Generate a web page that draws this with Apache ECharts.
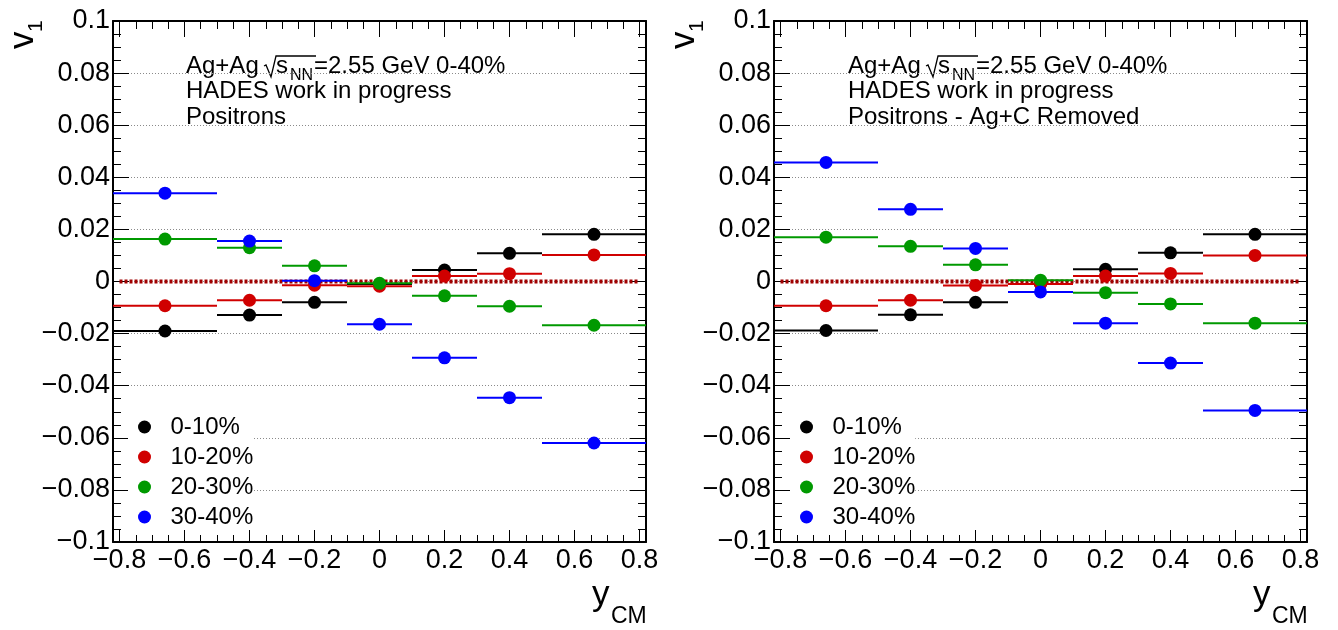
<!DOCTYPE html>
<html><head><meta charset="utf-8">
<script src="https://cdn.jsdelivr.net/npm/echarts@6/dist/echarts.min.js"></script>
<style>html,body{margin:0;padding:0;background:#fff}#c{width:1338px;height:630px}</style>
</head><body><div id="c"></div>
<script>
// ---------- data ----------
const categories = ['0-10%', '10-20%', '20-30%', '30-40%'];
const colors = ['#000000', '#d00000', '#009900', '#0000ff'];
const xCenters = [-0.66, -0.4, -0.2, 0, 0.2, 0.4, 0.66];
const binLow  = [-0.82, -0.5, -0.3, -0.1, 0.1, 0.3, 0.5];
const binHigh = [-0.5, -0.3, -0.1, 0.1, 0.3, 0.5, 0.82];

// Left panel: Positrons
const left_0_10  = [-0.0190, -0.0129, -0.0080, -0.0010, 0.0044, 0.0108, 0.0181];
const left_10_20 = [-0.0093, -0.0072, -0.0014, -0.0018, 0.0021, 0.0030, 0.0102];
const left_20_30 = [0.0163, 0.0130, 0.0060, -0.0007, -0.0055, -0.0095, -0.0168];
const left_30_40 = [0.0339, 0.0155, 0.0003, -0.0164, -0.0293, -0.0446, -0.0620];

// Right panel: Positrons - Ag+C Removed
const right_0_10  = [-0.0188, -0.0128, -0.0080, -0.0010, 0.0047, 0.0110, 0.0181];
const right_10_20 = [-0.0093, -0.0072, -0.0015, -0.0010, 0.0021, 0.0031, 0.0100];
const right_20_30 = [0.0170, 0.0135, 0.0064, 0.0005, -0.0043, -0.0086, -0.0160];
const right_30_40 = [0.0457, 0.0277, 0.0127, -0.0040, -0.0160, -0.0313, -0.0495];

const zeroLine = [[-0.8, 0], [0.8, 0]];

const xMajorTicks = [-0.8, -0.6, -0.4, -0.2, 0, 0.2, 0.4, 0.6, 0.8];
const xMinorTicks = [-0.75, -0.7, -0.65, -0.55, -0.5, -0.45, -0.35, -0.3, -0.25, -0.15, -0.1, -0.05,
                     0.05, 0.1, 0.15, 0.25, 0.3, 0.35, 0.45, 0.5, 0.55, 0.65, 0.7, 0.75];
const X_MIN = -0.82, X_MAX = 0.82;
const Y_MIN = -0.1, Y_MAX = 0.1, Y_STEP = 0.02;

const panelTitles = [
  ['HADES work in progress', 'Positrons'],
  ['HADES work in progress', 'Positrons - Ag+C Removed']
];
const panelData = [
  [left_0_10, left_10_20, left_20_30, left_30_40],
  [right_0_10, right_10_20, right_20_30, right_30_40]
];

// ---------- build ----------
const FF = '"Liberation Sans", Arial, Helvetica, sans-serif';
const fmt = v => {
  const r = Math.round(v * 1000) / 1000;
  if (Math.abs(r) < 1e-9) return '0';
  return String(r).replace('-', '\u2212');
};

const grids = [], xAxes = [], yAxes = [], series = [], legends = [], gfx = [];
const gridLefts = [113, 774];

gridLefts.forEach((gl, p) => {
  grids.push({left: gl, top: 21, width: 533, height: 521, outerBoundsMode: 'none', containLabel: false});
  const baseX = {gridIndex: p, type: 'value', min: X_MIN, max: X_MAX, splitLine: {show: false}};
  xAxes.push(Object.assign({}, baseX, {
    position: 'bottom',
    axisLine: {onZero: false, lineStyle: {color: '#000', width: 2}},
    axisTick: {inside: true, length: 12, customValues: xMajorTicks, lineStyle: {color: '#000', width: 1}},
    axisLabel: {customValues: xMajorTicks, formatter: fmt, fontSize: 27, color: '#000', fontFamily: FF, margin: 5}
  }));
  xAxes.push(Object.assign({}, baseX, {
    position: 'bottom',
    axisLine: {show: false, onZero: false},
    axisTick: {inside: true, length: 7, customValues: xMinorTicks, lineStyle: {color: '#000', width: 1}},
    axisLabel: {show: false}
  }));
  xAxes.push(Object.assign({}, baseX, {
    position: 'top',
    axisLine: {onZero: false, lineStyle: {color: '#000', width: 2}},
    axisTick: {inside: true, length: 16, customValues: xMajorTicks, lineStyle: {color: '#000', width: 1}},
    axisLabel: {show: false}
  }));
  xAxes.push(Object.assign({}, baseX, {
    position: 'top',
    axisLine: {show: false, onZero: false},
    axisTick: {inside: true, length: 8, customValues: xMinorTicks, lineStyle: {color: '#000', width: 1}},
    axisLabel: {show: false}
  }));
  const baseY = {gridIndex: p, type: 'value', min: Y_MIN, max: Y_MAX, interval: Y_STEP,
    axisLine: {onZero: false, lineStyle: {color: '#000', width: 2}},
    axisTick: {inside: true, length: 16, lineStyle: {color: '#000', width: 1}},
    minorTick: {show: true, splitNumber: 4, length: 8, lineStyle: {color: '#000', width: 1}}};
  yAxes.push(Object.assign({}, baseY, {
    position: 'left',
    axisLabel: {formatter: fmt, fontSize: 27, color: '#000', fontFamily: FF, margin: 3},
    splitLine: {show: true, lineStyle: {color: '#8a8a8a', width: 1, type: [1, 2]}}
  }));
  yAxes.push(Object.assign({}, baseY, {
    position: 'right',
    axisLabel: {show: false},
    splitLine: {show: false}
  }));

  const xi = p * 4, yi = p * 2;
  series.push({
    type: 'line', xAxisIndex: xi, yAxisIndex: yi, data: zeroLine, symbol: 'none', silent: true,
    lineStyle: {color: '#a00000', width: 4, type: [3, 2]}, z: 1, animation: false
  });
  panelData[p].forEach((vals, k) => {
    const col = colors[k];
    series.push({
      type: 'custom', xAxisIndex: xi, yAxisIndex: yi, clip: true, silent: true, animation: false,
      name: categories[k] + ' bins',
      data: xCenters.map((x, i) => [x, vals[i], binLow[i], binHigh[i]]),
      encode: {x: 0, y: 1},
      renderItem: (params, api) => {
        const y = api.value(1);
        const a = api.coord([api.value(2), y]);
        const b = api.coord([api.value(3), y]);
        return {type: 'line', shape: {x1: a[0], y1: a[1], x2: b[0], y2: b[1]},
                style: {stroke: col, lineWidth: 2}};
      },
      z: 2 + 2 * k
    });
    series.push({
      type: 'scatter', xAxisIndex: xi, yAxisIndex: yi, name: categories[k], animation: false,
      data: xCenters.map((x, i) => [x, vals[i]]),
      symbol: 'circle', symbolSize: 13, itemStyle: {color: col, opacity: 1},
      z: 3 + 2 * k
    });
  });

  const dx = p === 0 ? 0 : 662;
  legends.push({
    data: categories, orient: 'vertical', left: 128 + dx, top: 407,
    padding: [8, 0, 0, 10], backgroundColor: '#fff', itemGap: 6,
    itemWidth: 42, itemHeight: 13, icon: 'circle', selectedMode: false,
    textStyle: {fontSize: 24, color: '#000', fontFamily: FF}, z: 1
  });

  const f24 = '24px ' + FF;
  gfx.push({type: 'text', x: 186 + dx, y: 66, style: {text: 'Ag+Ag', font: f24, fill: '#000', align: 'left', verticalAlign: 'middle'}});
  gfx.push({type: 'polyline', shape: {points: [[264 + dx, 66], [266 + dx, 65], [271 + dx, 77], [276 + dx, 56], [316 + dx, 56]]},
            style: {stroke: '#000', lineWidth: 1.3, fill: null}});
  gfx.push({type: 'text', x: 276 + dx, y: 66, style: {text: 's', font: f24, fill: '#000', align: 'left', verticalAlign: 'middle'}});
  gfx.push({type: 'text', x: 290 + dx, y: 76, style: {text: 'NN', font: '16px ' + FF, fill: '#000', align: 'left', verticalAlign: 'middle'}});
  gfx.push({type: 'text', x: 314 + dx, y: 66, style: {text: '=2.55 GeV 0-40%', font: f24, fill: '#000', align: 'left', verticalAlign: 'middle'}});
  gfx.push({type: 'text', x: 186 + dx, y: 91, style: {text: panelTitles[p][0], font: f24, fill: '#000', align: 'left', verticalAlign: 'middle'}});
  gfx.push({type: 'text', x: 186 + dx, y: 117, style: {text: panelTitles[p][1], font: f24, fill: '#000', align: 'left', verticalAlign: 'middle'}});

  const ax = p === 0 ? 0 : 661;
  gfx.push({type: 'text', x: 23 + ax, y: 49, rotation: Math.PI / 2, style: {text: 'v', font: '35px ' + FF, fill: '#000', align: 'left', verticalAlign: 'middle'}});
  gfx.push({type: 'text', x: 36 + ax, y: 32, rotation: Math.PI / 2, style: {text: '1', font: '21px ' + FF, fill: '#000', align: 'left', verticalAlign: 'middle'}});
  gfx.push({type: 'text', x: 592 + ax, y: 595, style: {text: 'y', font: '35px ' + FF, fill: '#000', align: 'left', verticalAlign: 'middle'}});
  gfx.push({type: 'text', x: 611 + ax, y: 617, style: {text: 'CM', font: '23px ' + FF, fill: '#000', align: 'left', verticalAlign: 'middle'}});
});

const chart = echarts.init(document.getElementById('c'), null, {renderer: 'canvas', width: 1338, height: 630});
chart.setOption({
  backgroundColor: '#ffffff',
  animation: false,
  grid: grids,
  xAxis: xAxes,
  yAxis: yAxes,
  legend: legends,
  series: series,
  graphic: {elements: gfx}
});
</script>
</body></html>
